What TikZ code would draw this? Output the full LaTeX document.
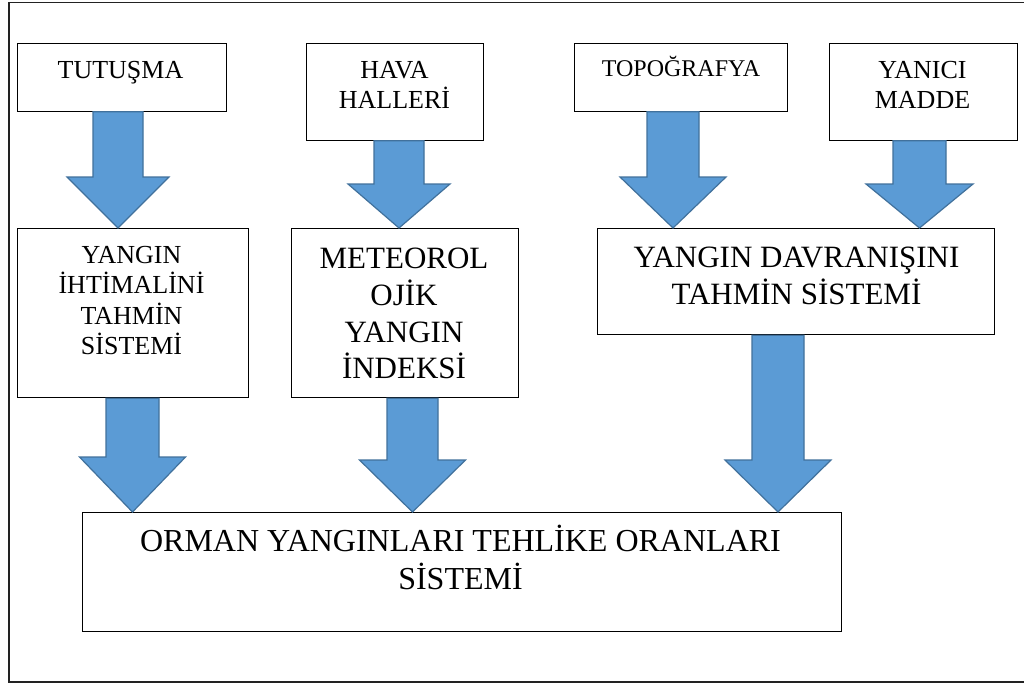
\documentclass[tikz,border=0pt]{standalone}
\usepackage{fontspec}
\setmainfont{Liberation Serif}
\definecolor{arrfill}{HTML}{5B9BD5}
\definecolor{arrline}{HTML}{41719C}
\definecolor{frameline}{HTML}{222222}
\tikzset{
  boxnode/.style={draw=black, line width=1.2pt, fill=white, inner sep=0pt, anchor=north west},
  txt/.style={anchor=base, inner sep=0pt},
  blockarrow/.style={fill=arrfill, draw=arrline, line width=1.2pt, line join=miter},
}
% #1 source node, #2 target node, #3 x centre, #4 y of head shoulders, #5 half shaft, #6 half head
\newcommand\blockarr[6]{%
  \path[blockarrow] (#3-#5,0 |- #1.south) -- (#3-#5,#4) -- (#3-#6,#4) -- (#3,0 |- #2.north)
    -- (#3+#6,#4) -- (#3+#5,#4) -- (#3+#5,0 |- #1.south) -- cycle;}
\newcommand\fsz[1]{\fontsize{#1}{#1}\selectfont}
\begin{document}
\begin{tikzpicture}[x=1pt,y=-1pt]
\useasboundingbox (0,0) rectangle (1024,683);
\fill[white] (0,0) rectangle (1024,683);
% outer frame
\draw[frameline, line width=1.4pt] (1040,2.7) -- (8.8,2.7) -- (8.8,681.8) -- (1040,681.8);

% top boxes
\node[boxnode, minimum width=209pt, minimum height=68pt] (tut) at (16.5,42.5) {};
\node[boxnode, minimum width=177pt, minimum height=97pt] (hava) at (306,42.5) {};
\node[boxnode, minimum width=213pt, minimum height=68pt] (topo) at (574,42.5) {};
\node[boxnode, minimum width=187.5pt, minimum height=97pt] (yan) at (829,42.5) {};
% middle boxes
\node[boxnode, minimum width=231pt, minimum height=169pt] (iht) at (16.5,228) {};
\node[boxnode, minimum width=227pt, minimum height=169pt] (met) at (291,228) {};
\node[boxnode, minimum width=397pt, minimum height=106pt] (dav) at (597,228) {};
% bottom box
\node[boxnode, minimum width=759pt, minimum height=119pt] (orm) at (82,512) {};

% texts
\node[txt, font=\fsz{26}] at (120.5,78) {TUTUŞMA};
\node[txt, font=\fsz{26}] at (394.5,78) {HAVA};
\node[txt, font=\fsz{26}] at (394.5,108) {HALLERİ};
\node[txt, font=\fsz{24}] at (681,76) {TOPOĞRAFYA};
\node[txt, font=\fsz{26}] at (922.5,78) {YANICI};
\node[txt, font=\fsz{26}] at (922.5,108) {MADDE};

\node[txt, font=\fsz{26}] at (131.5,263) {YANGIN};
\node[txt, font=\fsz{26}] at (131.5,293) {İHTİMALİNİ};
\node[txt, font=\fsz{26}] at (131.5,324) {TAHMİN};
\node[txt, font=\fsz{26}] at (131.5,354) {SİSTEMİ};

\node[txt, font=\fsz{31}] at (404,268) {METEOROL};
\node[txt, font=\fsz{31}] at (404,305) {OJİK};
\node[txt, font=\fsz{31}] at (404,342) {YANGIN};
\node[txt, font=\fsz{31}] at (404,378) {İNDEKSİ};

\node[txt, font=\fsz{31}] at (796.5,267) {YANGIN DAVRANIŞINI};
\node[txt, font=\fsz{31}] at (796.5,304) {TAHMİN SİSTEMİ};

\node[txt, font=\fsz{32}] at (460.5,551) {ORMAN YANGINLARI TEHLİKE ORANLARI};
\node[txt, font=\fsz{32}] at (460.5,589) {SİSTEMİ};

% block arrows
\blockarr{tut}{iht}{118}{177}{25}{51}
\blockarr{hava}{met}{399}{184}{25}{51}
\blockarr{topo}{dav}{673}{177}{26}{53}
\blockarr{yan}{dav}{919.5}{184}{26.5}{53.5}
\blockarr{iht}{orm}{132.5}{457}{26.5}{53}
\blockarr{met}{orm}{412.5}{460}{25.5}{53}
\blockarr{dav}{orm}{778}{460}{26}{53}
\end{tikzpicture}
\end{document}
